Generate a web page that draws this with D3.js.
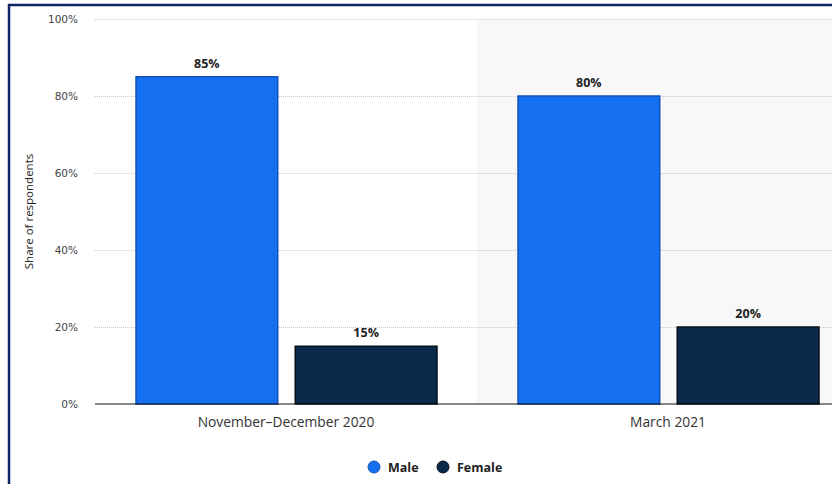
<!DOCTYPE html>
<html>
<head>
<meta charset="utf-8">
<script src="https://cdn.jsdelivr.net/npm/d3@7"></script>
<style>
  body { margin: 0; background: #fff; }
  svg { display: block; font-family: "Open Sans", "DejaVu Sans", sans-serif; }
</style>
</head>
<body>
<script>
// Data
var periods = ["November-December 2020", "March 2021"];
var genders = ["Male", "Female"];
var male = [85, 80];
var female = [15, 20];
var yTicks = [0, 20, 40, 60, 80, 100];
var colors = ["#1470f0", "#0b2a4b"];
var strokes = ["#1552b8", "#050f1a"];

var width = 832, height = 484;
var margin = {top: 19, left: 95, bottom: 80};

var svg = d3.select("body").append("svg")
    .attr("width", width)
    .attr("height", height);

// frame
svg.append("line").attr("x1", 8).attr("x2", width).attr("y1", 5).attr("y2", 5)
    .attr("stroke", "#0d2466").attr("stroke-width", 2.5);
svg.append("line").attr("x1", 9).attr("x2", 9).attr("y1", 4).attr("y2", height)
    .attr("stroke", "#0d2466").attr("stroke-width", 2.5);

var x0 = d3.scaleBand()
    .domain(periods)
    .range([margin.left, 859]);

var x1 = d3.scaleBand()
    .domain(genders)
    .range([41, 342])
    .paddingInner(0.11);

var y = d3.scaleLinear()
    .domain([0, 100])
    .range([404, margin.top]);

// shaded alternate group
svg.append("rect")
    .attr("x", x0(periods[1]))
    .attr("y", y(100))
    .attr("width", x0.bandwidth())
    .attr("height", y(0) - y(100))
    .attr("fill", "#f8f8f8");

// gridlines
svg.append("g").selectAll("line").data(yTicks.slice(1)).enter()
  .append("line")
    .attr("x1", margin.left)
    .attr("x2", width)
    .attr("y1", function(d) { return y(d) + 0.5; })
    .attr("y2", function(d) { return y(d) + 0.5; })
    .attr("stroke", "#c8c8c8")
    .attr("stroke-dasharray", "1,1");

// y axis labels
svg.append("g").selectAll("text").data(yTicks).enter()
  .append("text")
    .attr("x", 78)
    .attr("y", function(d) { return y(d) + 4; })
    .attr("text-anchor", "end")
    .style("font-family", "DejaVu Sans, sans-serif")
    .style("font-size", "10.5px")
    .style("fill", "#444")
    .text(function(d) { return d + "%"; });

svg.append("text")
    .attr("transform", "translate(33," + ((y(0) + y(100)) / 2) + ") rotate(-90)")
    .attr("text-anchor", "middle")
    .style("font-size", "11.5px")
    .style("fill", "#222")
    .text("Share of respondents");

// bars
var rows = periods.map(function(p, i) {
  return {period: p, values: [male[i], female[i]]};
});

var group = svg.selectAll(".group").data(rows).enter()
  .append("g")
    .attr("class", "group")
    .attr("transform", function(d) { return "translate(" + x0(d.period) + ",0)"; });

group.selectAll("rect").data(function(d) { return d.values; }).enter()
  .append("rect")
    .attr("x", function(d, i) { return x1(genders[i]); })
    .attr("y", function(d) { return y(d); })
    .attr("width", x1.bandwidth())
    .attr("height", function(d) { return y(0) - y(d); })
    .attr("fill", function(d, i) { return colors[i]; })
    .attr("stroke", function(d, i) { return strokes[i]; })
    .attr("stroke-width", 1.5);

group.selectAll(".val").data(function(d) { return d.values; }).enter()
  .append("text")
    .attr("class", "val")
    .attr("x", function(d, i) { return x1(genders[i]) + x1.bandwidth() / 2; })
    .attr("y", function(d) { return y(d) - 9; })
    .attr("text-anchor", "middle")
    .style("font-size", "12.5px")
    .style("font-weight", "bold")
    .style("fill", "#222")
    .text(function(d) { return d + "%"; });

// baseline
svg.append("line")
    .attr("x1", margin.left).attr("x2", width)
    .attr("y1", y(0)).attr("y2", y(0))
    .attr("stroke", "#111").attr("stroke-width", 1.2);

// category labels
svg.append("g").selectAll("text").data(periods).enter()
  .append("text")
    .attr("x", function(d) { return x0(d) + 191; })
    .attr("y", 427)
    .attr("text-anchor", "middle")
    .style("font-size", "13.8px")
    .style("fill", "#333")
    .text(function(d) { return d.replace("-", "\u2013"); });

// legend
var legX = [374, 443];
var legend = svg.selectAll(".leg").data(genders).enter()
  .append("g")
    .attr("class", "leg")
    .attr("transform", function(d, i) { return "translate(" + legX[i] + ",467)"; });

legend.append("circle")
    .attr("r", 6)
    .attr("fill", function(d, i) { return colors[i]; })
    .attr("stroke", function(d, i) { return strokes[i]; });

legend.append("text")
    .attr("x", 14)
    .attr("y", 4.5)
    .style("font-size", "12.5px")
    .style("font-weight", "bold")
    .style("fill", "#222")
    .text(function(d) { return d; });
</script>
</body>
</html>
